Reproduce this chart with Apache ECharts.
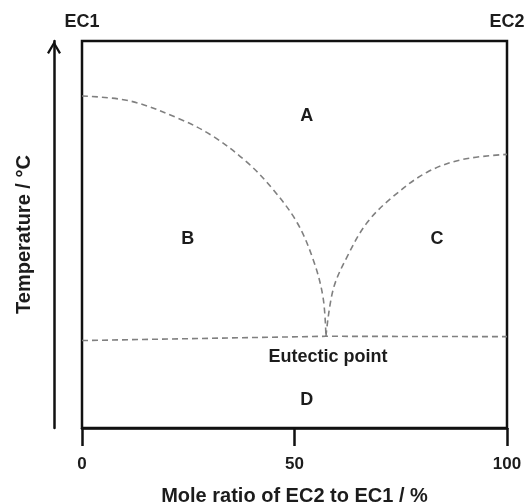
<!DOCTYPE html>
<html>
<head>
<meta charset="utf-8">
<script src="https://cdn.jsdelivr.net/npm/echarts@6/dist/echarts.min.js"></script>
<style>
  html, body { margin: 0; padding: 0; background: #fff; }
  #chart { width: 531px; height: 502px; }
</style>
</head>
<body>
<div id="chart"></div>
<script>
// Composition axis ticks (mole ratio of EC2 to EC1, %)
const xTicks = [0, 50, 100];
const pureComponents = ['EC1', 'EC2'];

// Liquidus curve on the EC1-rich side (relative temperature scale 0-100)
const leftLiquidusX = [0, 11.3, 23.1, 30.8, 38.8, 44.9, 50.6, 54.4, 56.7, 57.4];
const leftLiquidusY = [85.8, 84.5, 79.8, 75.4, 68.7, 61.7, 53.1, 43.5, 33.9, 23.7];

// Liquidus curve on the EC2-rich side
const rightLiquidusX = [57.4, 59.1, 62.4, 67.1, 73.2, 81.2, 89.6, 100];
const rightLiquidusY = [23.7, 35.8, 44.3, 53.1, 59.8, 66.1, 69.4, 70.7];

// Eutectic (solidus) line
const eutecticX = [0, 57.4, 100];
const eutecticY = [22.6, 23.7, 23.6];

// Phase region labels
const regionNames = ['A', 'B', 'C', 'Eutectic point', 'D'];
const regionX = [52.9, 24.9, 83.5, 57.9, 52.9];
const regionY = [80.6, 48.7, 48.7, 18.4, 7.3];

const zip = (xs, ys) => xs.map((x, i) => [x, ys[i]]);

const FONT = "'Liberation Sans', Arial, Helvetica, sans-serif";
const INK = '#1c1c1c';
const dashStyle = { color: '#808080', width: 1.6, type: [6, 4] };

const chart = echarts.init(document.getElementById('chart'), null, { renderer: 'canvas' });

chart.setOption({
  backgroundColor: '#ffffff',
  animation: false,
  grid: {
    left: 82, right: 24, top: 41, bottom: 74,
    containLabel: false, outerBoundsMode: 'none',
    show: true, borderColor: '#111', borderWidth: 2.5, backgroundColor: 'transparent'
  },
  xAxis: [
    {
      type: 'value', position: 'bottom', min: 0, max: 100, interval: 50,
      name: 'Mole ratio of EC2 to EC1 / %',
      nameLocation: 'middle', nameGap: 58,
      nameTextStyle: { fontFamily: FONT, fontWeight: 'bold', fontSize: 20, color: INK },
      axisLine: { show: true, lineStyle: { color: '#111', width: 2.5 } },
      axisTick: { show: true, inside: false, length: 18, lineStyle: { color: '#111', width: 2.5 } },
      axisLabel: {
        margin: 28, fontFamily: FONT, fontWeight: 'bold', fontSize: 17, color: INK,
        formatter: v => (xTicks.includes(v) ? String(v) : '')
      },
      splitLine: { show: false }
    },
    {
      type: 'value', position: 'top', min: 0, max: 100, interval: 100,
      axisLine: { show: false }, axisTick: { show: false }, splitLine: { show: false },
      axisLabel: {
        margin: 10, fontFamily: FONT, fontWeight: 'bold', fontSize: 18, color: INK,
        formatter: v => (v === 0 ? pureComponents[0] : pureComponents[1])
      }
    }
  ],
  yAxis: {
    type: 'value', min: 0, max: 100, offset: 28,
    name: 'Temperature / \u00B0C',
    nameLocation: 'middle', nameGap: 20, nameRotate: 90,
    nameTextStyle: { fontFamily: FONT, fontWeight: 'bold', fontSize: 20, color: INK },
    axisLine: {
      show: true, onZero: false,
      symbol: ['none', 'path://M0,10 L6,0 L12,10 L10.3,11 L6,3.6 L1.7,11 Z'],
      symbolSize: [14, 13],
      symbolOffset: [0, -6.5],
      lineStyle: { color: '#111', width: 2.5 }
    },
    axisTick: { show: false },
    axisLabel: { show: false },
    splitLine: { show: false }
  },
  series: [
    {
      type: 'line', name: 'liquidus EC1', data: zip(leftLiquidusX, leftLiquidusY),
      smooth: 0.35, showSymbol: false, lineStyle: dashStyle, z: 3
    },
    {
      type: 'line', name: 'liquidus EC2', data: zip(rightLiquidusX, rightLiquidusY),
      smooth: 0.35, showSymbol: false, lineStyle: dashStyle, z: 3
    },
    {
      type: 'line', name: 'eutectic', data: zip(eutecticX, eutecticY),
      showSymbol: false, lineStyle: dashStyle, z: 3
    },
    {
      type: 'scatter', name: 'regions', symbolSize: 0, silent: true, clip: false,
      itemStyle: { opacity: 1 },
      data: regionNames.map((n, i) => ({ name: n, value: [regionX[i], regionY[i]] })),
      label: {
        show: true, position: 'inside', formatter: p => p.name, opacity: 1,
        fontFamily: FONT, fontWeight: 'bold', fontSize: 18, color: INK
      },
      z: 4
    }
  ]
});
</script>
</body>
</html>
